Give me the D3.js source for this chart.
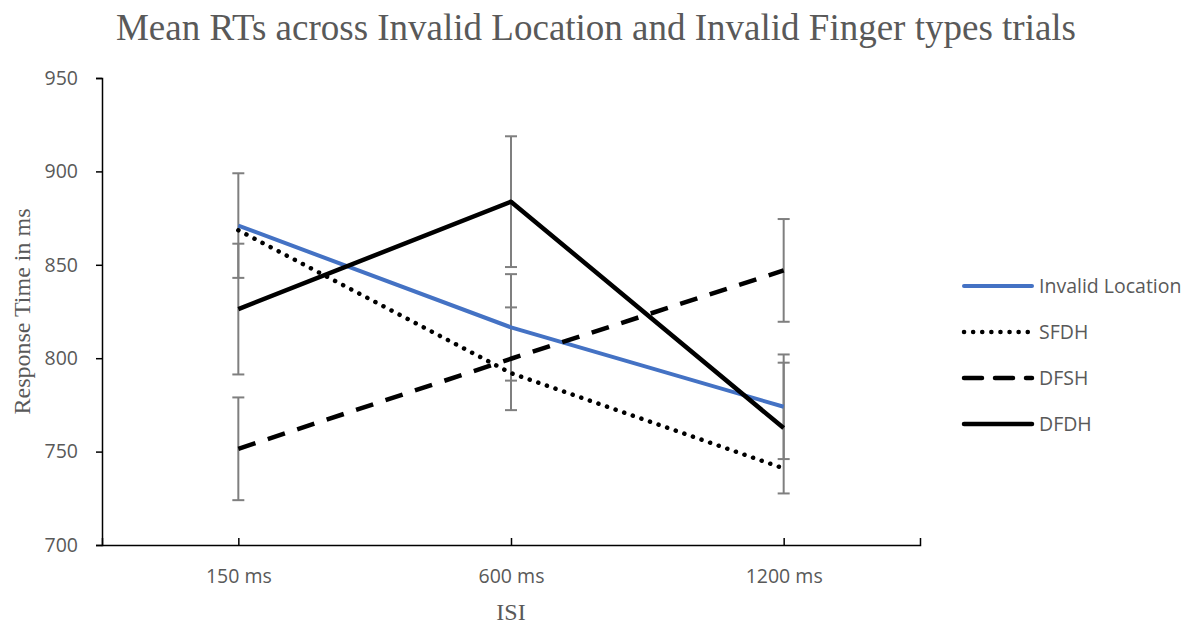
<!DOCTYPE html>
<html>
<head>
<meta charset="utf-8">
<script src="https://cdn.jsdelivr.net/npm/d3@7"></script>
<style>
  body { margin: 0; background: #fff; }
  .tick-label { font-family: 'Open Sans', 'Noto Sans', sans-serif; font-size: 19.5px; fill: #595959; }
  .serif { font-family: 'Liberation Serif', 'Times New Roman', serif; fill: #595959; }
</style>
</head>
<body>
<svg width="1201" height="627"></svg>
<script>
const categories = ['150 ms', '600 ms', '1200 ms'];
const seriesNames = ['Invalid Location', 'SFDH', 'DFSH', 'DFDH'];
const invalidLocation = [871, 816.5, 774];
const sfdh = [868.5, 792, 741];
const dfsh = [751.5, 799.7, 847];
const dfdh = [826.3, 883.8, 762.6];
// error bar half-widths (null = no bars)
const invalidLocationErr = [28, 28.5, 28];
const sfdhErr = null;
const dfshErr = [27.5, 27.5, 27.5];
const dfdhErr = [35, 35, 35];
const yTickValues = [700, 750, 800, 850, 900, 950];

const series = [
    { name: seriesNames[0], values: invalidLocation, err: invalidLocationErr, color: '#4472c4', dash: null, width: 4 },
    { name: seriesNames[1], values: sfdh, err: sfdhErr, color: '#000', dash: '0.1 9', width: 4.5, cap: 'round' },
    { name: seriesNames[2], values: dfsh, err: dfshErr, color: '#000', dash: '18 13', width: 4.5 },
    { name: seriesNames[3], values: dfdh, err: dfdhErr, color: '#000', dash: null, width: 4.5 }
];

const margin = { left: 102, right: 281, top: 78, bottom: 82 };
const svg = d3.select('svg');
const width = +svg.attr('width');
const height = +svg.attr('height');
const innerWidth = width - margin.left - margin.right;
const innerHeight = height - margin.top - margin.bottom;

const g = svg.append('g')
    .attr('transform', `translate(${margin.left},${margin.top})`);

const xScale = d3.scalePoint()
    .domain(categories)
    .range([0, innerWidth])
    .padding(0.5);
const yScale = d3.scaleLinear()
    .domain([700, 950])
    .range([innerHeight, 0]);

// y axis
const yAxisG = g.append('g')
    .call(d3.axisLeft(yScale).tickValues(yTickValues).tickSize(6).tickPadding(18));
yAxisG.select('.domain').attr('stroke', '#000').attr('stroke-width', 1.5);
yAxisG.selectAll('.tick line').attr('stroke', '#000').attr('stroke-width', 1.5);
yAxisG.selectAll('.tick text').attr('class', 'tick-label').attr('fill', null);

// x axis
const xAxisG = g.append('g')
    .attr('transform', `translate(0,${innerHeight})`)
    .call(d3.axisBottom(xScale).tickSize(-7).tickSizeOuter(-7).tickPadding(24));
xAxisG.select('.domain').attr('stroke', '#000').attr('stroke-width', 1.5);
xAxisG.selectAll('.tick line').attr('stroke', '#000').attr('stroke-width', 1.5);
xAxisG.selectAll('.tick text').attr('class', 'tick-label').attr('fill', null);

// error bars
series.filter(s => s.err).forEach(s => {
    const eg = g.append('g').attr('stroke', '#7f7f7f').attr('stroke-width', 2);
    categories.forEach((c, i) => {
        const x = xScale(c);
        const hi = yScale(s.values[i] + s.err[i]);
        const lo = yScale(s.values[i] - s.err[i]);
        eg.append('line').attr('x1', x).attr('x2', x).attr('y1', hi).attr('y2', lo);
        eg.append('line').attr('x1', x - 6).attr('x2', x + 6).attr('y1', hi).attr('y2', hi);
        eg.append('line').attr('x1', x - 6).attr('x2', x + 6).attr('y1', lo).attr('y2', lo);
    });
});

const line = d3.line()
    .x((d, i) => xScale(categories[i]))
    .y(d => yScale(d));

series.forEach(s => {
    g.append('path')
        .attr('fill', 'none')
        .attr('stroke', s.color)
        .attr('stroke-width', s.width)
        .attr('stroke-dasharray', s.dash)
        .attr('stroke-linecap', s.cap || 'butt')
        .attr('stroke-linejoin', 'round')
        .attr('d', line(s.values));
});

// legend
const legend = svg.append('g').attr('transform', 'translate(964,286)');
series.forEach((s, i) => {
    const row = legend.append('g').attr('transform', `translate(0,${i * 46})`);
    row.append('line')
        .attr('x1', 0).attr('x2', 68)
        .attr('stroke', s.color)
        .attr('stroke-width', s.width)
        .attr('stroke-dasharray', s.dash)
        .attr('stroke-linecap', s.cap || 'round');
    row.append('text')
        .attr('class', 'tick-label')
        .attr('x', 75)
        .attr('dy', '0.35em')
        .text(s.name);
});

// title and axis labels
svg.append('text')
    .attr('class', 'serif')
    .attr('x', 596).attr('y', 40)
    .attr('text-anchor', 'middle')
    .style('font-size', '37px')
    .text('Mean RTs across Invalid Location and Invalid Finger types trials');

svg.append('text')
    .attr('class', 'serif')
    .attr('transform', `translate(30,${margin.top + innerHeight / 2}) rotate(-90)`)
    .attr('text-anchor', 'middle')
    .style('font-size', '24px')
    .text('Response Time in ms');

svg.append('text')
    .attr('class', 'serif')
    .attr('x', margin.left + xScale(categories[1])).attr('y', 620)
    .attr('text-anchor', 'middle')
    .style('font-size', '24px')
    .text('ISI');
</script>
</body>
</html>
